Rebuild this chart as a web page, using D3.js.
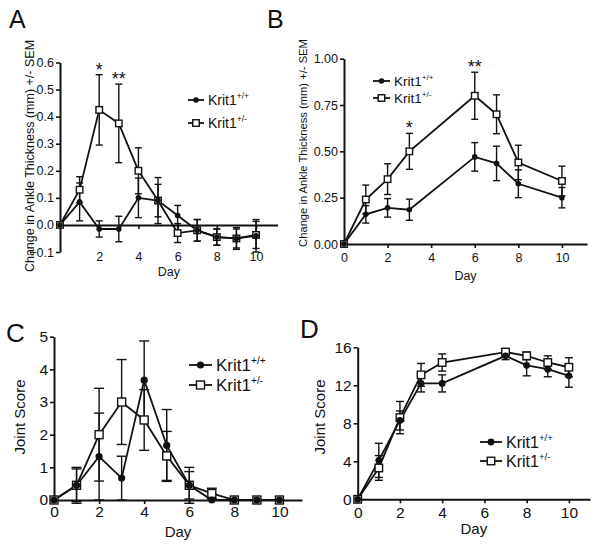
<!DOCTYPE html>
<html><head><meta charset="utf-8">
<script src="https://cdn.jsdelivr.net/npm/d3@7"></script>
<style>
body{margin:0;background:#fff;}
svg{display:block;font-family:"Liberation Sans",Arial,sans-serif;}
</style></head>
<body>
<svg id="chart" width="600" height="545"></svg>
<script>
// ---------- DATA ----------
const seriesNames = ["Krit1", "Krit1"];
const seriesSup = ["+/+", "+/-"];

// Panel A: change in ankle thickness
const daysA = [0,1,2,3,4,5,6,7,8,9,10];
const A_wt     = [0, 0.085, -0.015, -0.015, 0.10, 0.09, 0.035, -0.02, -0.045, -0.05, -0.04];
const A_wt_sem = [0, 0.07, 0.03, 0.047, 0.073, 0.06, 0.037, 0.04, 0.03, 0.04, 0.06];
const A_het    = [0, 0.13, 0.425, 0.375, 0.20, 0.09, -0.03, -0.02, -0.045, -0.05, -0.037];
const A_het_sem= [0, 0.048, 0.13, 0.145, 0.085, 0.085, 0.035, 0.04, 0.03, 0.035, 0.05];
const A_yTicks = [-0.1, 0, 0.1, 0.2, 0.3, 0.4, 0.5, 0.6];
const A_xTicks = [2, 4, 6, 8, 10];
const A_stars  = [{day:2, text:"*"}, {day:3, text:"**"}];

// Panel B: change in ankle thickness
const daysB = [0,1,2,3,6,7,8,10];
const B_wt     = [0, 0.16, 0.195, 0.185, 0.47, 0.435, 0.325, 0.25];
const B_wt_sem = [0, 0.047, 0.05, 0.057, 0.077, 0.093, 0.075, 0.055];
const B_het    = [0, 0.24, 0.35, 0.50, 0.80, 0.70, 0.44, 0.34];
const B_het_sem= [0, 0.078, 0.083, 0.097, 0.127, 0.105, 0.093, 0.08];
const B_yTicks = [0, 0.25, 0.5, 0.75, 1.0];
const B_xTicks = [0, 2, 4, 6, 8, 10];
const B_stars  = [{day:3, text:"*"}, {day:6, text:"**"}];

// Panel C: joint score
const daysC = [0,1,2,3,4,5,6,7,8,9,10];
const C_wt     = [0, 0.45, 1.33, 0.67, 3.67, 1.67, 0.45, 0, 0, 0, 0];
const C_wt_sem = [0, 0.5, 1.33, 0.67, 1.2, 1.1, 0.55, 0, 0, 0, 0];
const C_het    = [0, 0.45, 2.0, 3.0, 2.45, 1.35, 0.45, 0.2, 0, 0, 0];
const C_het_sem= [0, 0.55, 1.42, 1.3, 0.93, 0.75, 0.42, 0.16, 0, 0, 0];
const C_yTicks = [0, 1, 2, 3, 4, 5];
const C_xTicks = [0, 2, 4, 6, 8, 10];

// Panel D: joint score
const daysD = [0,1,2,3,4,7,8,9,10];
const D_wt     = [0, 4.1, 8.3, 12.2, 12.2, 15.1, 14.1, 13.7, 13.0];
const D_wt_sem = [0, 1.8, 1.0, 0.9, 0.9, 0.4, 1.1, 0.8, 1.2];
const D_het    = [0, 3.3, 8.6, 13.1, 14.4, 15.5, 15.1, 14.4, 13.9];
const D_het_sem= [0, 1.3, 1.7, 1.2, 0.9, 0.25, 0.4, 0.7, 1.0];
const D_yTicks = [0, 4, 8, 12, 16];
const D_xTicks = [0, 2, 4, 6, 8, 10];

// ---------- DRAW ----------
const svg = d3.select("#chart");
const INK = "#111";

function panel(cfg){
  const g = svg.append("g");
  const x = d3.scaleLinear().domain(cfg.xDomain).range(cfg.xRange);
  const y = d3.scaleLinear().domain(cfg.yDomain).range(cfg.yRange);
  const fs = cfg.tickFont;

  // y axis
  const ya = g.append("g").attr("transform", `translate(${cfg.xRange[0]},0)`)
    .call(d3.axisLeft(y).tickValues(cfg.yTicks).tickFormat(d3.format(cfg.yFmt))
      .tickSize(4).tickSizeOuter(0).tickPadding(2));
  ya.select(".domain").attr("stroke", INK).attr("stroke-width", 2);
  ya.selectAll(".tick line").attr("stroke", INK).attr("stroke-width", 1.6);
  ya.selectAll("text").attr("font-size", fs).attr("fill", INK).attr("font-family", null);

  // x axis (at y=0)
  const y0 = y(0);
  const xa = g.append("g").attr("transform", `translate(0,${y0})`)
    .call(d3.axisBottom(x).tickValues(cfg.xTicks).tickFormat(d3.format("d"))
      .tickSize(4).tickSizeOuter(0));
  xa.select(".domain").attr("stroke", INK).attr("stroke-width", 2);
  xa.selectAll(".tick line").attr("stroke", INK).attr("stroke-width", 1.6);
  xa.selectAll("text").attr("font-size", fs).attr("fill", INK).attr("font-family", null)
    .attr("y", cfg.xLabelOff).attr("dy", "0.35em");

  // axis titles
  g.append("text").attr("x", d3.mean(cfg.xRange)).attr("y", cfg.dayY)
    .attr("text-anchor", "middle").attr("font-size", cfg.dayFont).attr("fill", INK).text("Day");
  g.append("text").attr("transform", `translate(${cfg.yLabX},${cfg.yLabY}) rotate(-90)`)
    .attr("text-anchor", "middle").attr("font-size", cfg.yLabFont).attr("fill", INK).text(cfg.yLabel);

  // panel letter
  g.append("text").attr("x", cfg.letterX).attr("y", cfg.letterY)
    .attr("font-size", cfg.letterFont).attr("fill", INK).text(cfg.letter);

  const series = [
    {vals: cfg.het, sem: cfg.hetSem, shape: "square"},
    {vals: cfg.wt, sem: cfg.wtSem, shape: "circle"}
  ];

  // error bars
  series.forEach(s => {
    const eb = g.append("g");
    cfg.days.forEach((d, i) => {
      if (!s.sem[i]) return;
      const cx = x(d), lo = y(s.vals[i] - s.sem[i]), hi = y(s.vals[i] + s.sem[i]);
      eb.append("line").attr("x1", cx).attr("x2", cx).attr("y1", lo).attr("y2", hi)
        .attr("stroke", INK).attr("stroke-width", 1.4);
      [lo, hi].forEach(yy => eb.append("line").attr("x1", cx - cfg.cap).attr("x2", cx + cfg.cap)
        .attr("y1", yy).attr("y2", yy).attr("stroke", INK).attr("stroke-width", 1.4));
    });
  });

  // lines
  const line = d3.line().x((d) => x(d[0])).y((d) => y(d[1]));
  series.forEach(s => {
    g.append("path").datum(cfg.days.map((d, i) => [d, s.vals[i]]))
      .attr("d", line).attr("fill", "none").attr("stroke", INK).attr("stroke-width", 1.8);
  });

  // markers
  series.forEach(s => {
    cfg.days.forEach((d, i) => {
      drawMarker(g, s.shape, x(d), y(s.vals[i]), cfg);
    });
  });

  // asterisks
  (cfg.stars || []).forEach(st => {
    const idx = cfg.days.indexOf(st.day);
    const top = Math.max(cfg.het[idx] + cfg.hetSem[idx], cfg.wt[idx] + cfg.wtSem[idx]);
    g.append("text").attr("x", x(st.day)).attr("y", y(top) + cfg.starOff)
      .attr("text-anchor", "middle").attr("font-size", cfg.starFont).attr("fill", INK).text(st.text);
  });

  // legend
  const lg = g.append("g");
  ["square", "circle"].forEach((shape) => {
    const row = shape === "circle" ? 0 : 1;
    const ly = cfg.legY[row];
    lg.append("line").attr("x1", cfg.legX[0]).attr("x2", cfg.legX[1]).attr("y1", ly).attr("y2", ly)
      .attr("stroke", INK).attr("stroke-width", 1.8);
    drawMarker(lg, shape, (cfg.legX[0] + cfg.legX[1]) / 2, ly, cfg);
    const t = lg.append("text").attr("x", cfg.legX[1] + cfg.legGap).attr("y", ly + cfg.legFont * 0.36)
      .attr("font-size", cfg.legFont).attr("fill", INK);
    t.append("tspan").text(seriesNames[row]);
    t.append("tspan").attr("dy", -cfg.legFont * 0.4).attr("font-size", cfg.legFont * 0.6).text(seriesSup[row]);
  });
}

function drawMarker(g, shape, cx, cy, cfg){
  if (shape === "circle") {
    g.append("circle").attr("cx", cx).attr("cy", cy).attr("r", cfg.r).attr("fill", INK);
  } else {
    const s = cfg.sq;
    g.append("rect").attr("x", cx - s / 2).attr("y", cy - s / 2).attr("width", s).attr("height", s)
      .attr("fill", "#fff").attr("stroke", INK).attr("stroke-width", 1.4);
  }
}

const ankleLabel = "Change in Ankle Thickness (mm) +/- SEM";

panel({
  letter: "A", letterX: 9, letterY: 28, letterFont: 25,
  days: daysA, wt: A_wt, wtSem: A_wt_sem, het: A_het, hetSem: A_het_sem,
  xDomain: [0, 11.1], xRange: [60, 277.6], yDomain: [-0.1, 0.6], yRange: [252, 62.5],
  yTicks: A_yTicks, yFmt: ".1f", xTicks: A_xTicks, xLabelOff: 32,
  tickFont: 12.5, dayFont: 12.5, dayY: 276, yLabel: ankleLabel, yLabX: 34, yLabY: 156, yLabFont: 12.5,
  cap: 3.5, r: 2.8, sq: 6.5, stars: A_stars, starOff: 1, starFont: 18,
  legX: [188, 204], legGap: 4, legY: [100, 123], legFont: 14
});

panel({
  letter: "B", letterX: 267, letterY: 28, letterFont: 25,
  days: daysB, wt: B_wt, wtSem: B_wt_sem, het: B_het, hetSem: B_het_sem,
  xDomain: [0, 11.15], xRange: [344, 587], yDomain: [0, 1], yRange: [244, 58.7],
  yTicks: B_yTicks, yFmt: ".2f", xTicks: B_xTicks, xLabelOff: 14,
  tickFont: 12.5, dayFont: 12.5, dayY: 280, yLabel: ankleLabel, yLabX: 307, yLabY: 143, yLabFont: 11.2,
  cap: 3.5, r: 2.8, sq: 6.5, stars: B_stars, starOff: 1, starFont: 18,
  legX: [373, 390], legGap: 4, legY: [81, 98], legFont: 13.5
});

panel({
  letter: "C", letterX: 6, letterY: 342, letterFont: 26,
  days: daysC, wt: C_wt, wtSem: C_wt_sem, het: C_het, hetSem: C_het_sem,
  xDomain: [0, 11], xRange: [54, 302], yDomain: [0, 5], yRange: [500, 336.7],
  yTicks: C_yTicks, yFmt: "d", xTicks: C_xTicks, xLabelOff: 11.7,
  tickFont: 15.5, dayFont: 15, dayY: 537, yLabel: "Joint Score", yLabX: 25, yLabY: 417, yLabFont: 15,
  cap: 5, r: 3.6, sq: 8, stars: [],
  legX: [189, 212], legGap: 4, legY: [365, 385], legFont: 17
});

panel({
  letter: "D", letterX: 300, letterY: 338, letterFont: 26,
  days: daysD, wt: D_wt, wtSem: D_wt_sem, het: D_het, hetSem: D_het_sem,
  xDomain: [0, 11], xRange: [357.7, 590], yDomain: [0, 16], yRange: [499.3, 347.3],
  yTicks: D_yTicks, yFmt: "d", xTicks: D_xTicks, xLabelOff: 13.7,
  tickFont: 15.5, dayFont: 15, dayY: 534, yLabel: "Joint Score", yLabX: 325, yLabY: 417, yLabFont: 15,
  cap: 4, r: 3.4, sq: 7.5, stars: [],
  legX: [480, 502], legGap: 4, legY: [442, 461], legFont: 16
});
</script>
</body></html>
